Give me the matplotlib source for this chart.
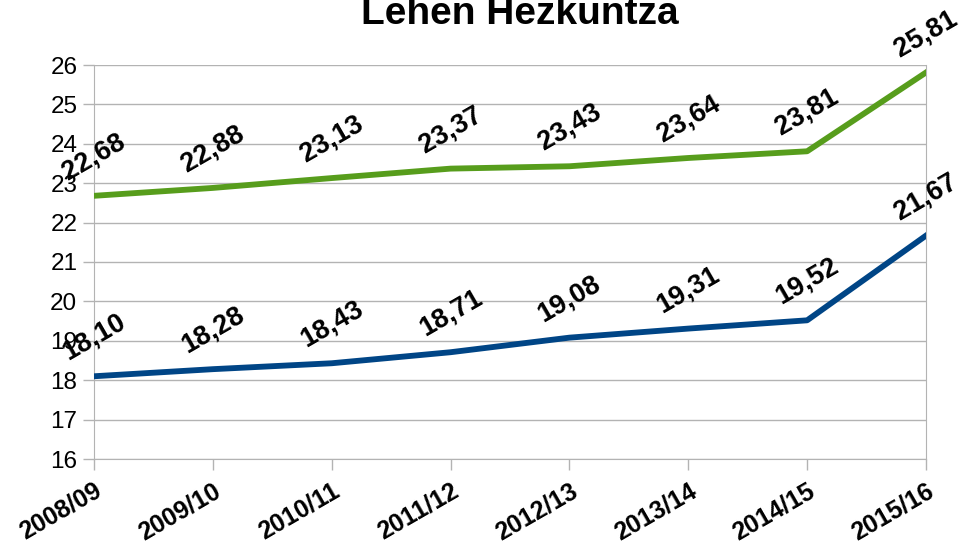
import matplotlib
matplotlib.use("Agg")
import matplotlib.pyplot as plt

categories = ["2008/09", "2009/10", "2010/11", "2011/12", "2012/13", "2013/14", "2014/15", "2015/16"]
green_values = [22.68, 22.88, 23.13, 23.37, 23.43, 23.64, 23.81, 25.81]
blue_values = [18.10, 18.28, 18.43, 18.71, 19.08, 19.31, 19.52, 21.67]
y_ticks = list(range(16, 27))

plt.rcParams['font.family'] = ['Liberation Sans', 'DejaVu Sans']

fig = plt.figure(figsize=(9.67, 5.44), dpi=100)
ax = fig.add_axes([94/967, 1-459/544, (926-94)/967, (459-65)/544])

x = list(range(len(categories)))
ax.plot(x, green_values, color="#579D1C", lw=4.2, solid_joinstyle='round', zorder=3)
ax.plot(x, blue_values, color="#004586", lw=4.2, solid_joinstyle='round', zorder=3)

for series in (green_values, blue_values):
    for xi, v in zip(x, series):
        ax.annotate(f"{v:.2f}".replace(".", ","), (xi, v), xytext=(0, 28),
                    textcoords="offset points", ha="center", va="center",
                    rotation=30, rotation_mode="anchor", fontsize=19.5,
                    fontweight="bold", color="black", zorder=4,
                    annotation_clip=False)

ax.set_xlim(0, len(categories) - 1)
ax.set_ylim(16, 26)
ax.set_yticks(y_ticks)
ax.set_yticklabels([str(t) for t in y_ticks], fontsize=17.5)
ax.set_xticks(x)
ax.set_xticklabels(categories, fontsize=18, fontweight="bold", rotation=30,
                   ha="right", va="top", rotation_mode="anchor")
ax.grid(axis="y", color="#b3b3b3", lw=1)
ax.set_axisbelow(True)
for s in ("left", "right", "bottom", "top"):
    ax.spines[s].set_color("#b3b3b3")
ax.spines["top"].set_visible(False)
ax.tick_params(axis="both", color="#b3b3b3", length=8, width=1)
ax.tick_params(axis="y", pad=4)
ax.tick_params(axis="x", pad=6)

fig.text(0.538, 1-24/544, "Lehen Hezkuntza", ha="center", va="baseline",
         fontsize=28, fontweight="bold")

fig.savefig("out.png", dpi=100)
